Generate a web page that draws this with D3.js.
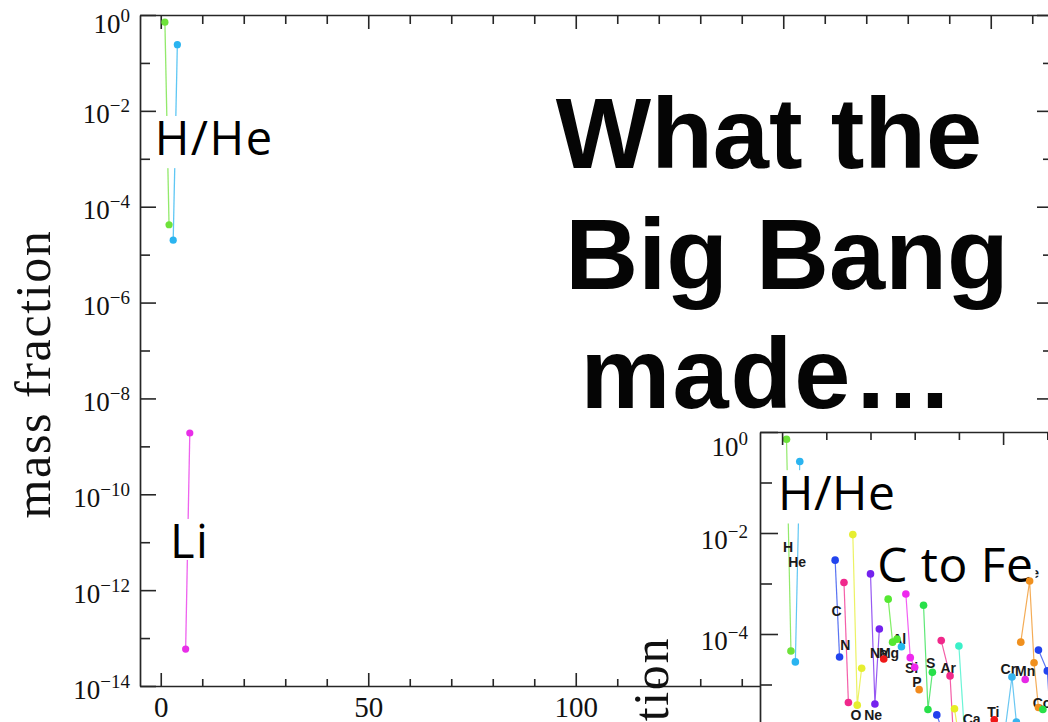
<!DOCTYPE html>
<html>
<head>
<meta charset="utf-8">
<script src="https://cdn.jsdelivr.net/npm/d3@7"></script>
<style>
  html, body { margin: 0; padding: 0; background: #fff; }
  svg { display: block; }
</style>
</head>
<body>
<svg id="chart" width="1048" height="722"></svg>
<script>
// ---------- Big Bang nucleosynthesis yields (main panel) ----------
const bbnElements  = ["H", "He", "Li"];
const bbnMass      = [[1, 2], [3, 4], [6, 7]];
const bbnFraction  = [[0.71, 4.2e-5], [2.0e-5, 0.24], [5.9e-14, 1.9e-9]];
const bbnColors    = ["#6ee23a", "#2ab4f0", "#e82ee8"];

const bbnNoteText     = ["H/He", "Li"];
const bbnNoteMass     = [-1.45, 2.2];
const bbnNoteFraction = [1.2e-3, 4.7e-12];

// ---------- Solar composition (inset panel) ----------
const solarElements = ["H","He","C","N","O","Ne","Na","Mg","Al","Si","P","S","Cl","Ar","K","Ca","Ti","Cr","Mn","Fe","Co","Ni"];
const solarMass = [
  [1, 2], [3, 4], [12, 13], [14, 15], [16, 17, 18], [20, 21, 22], [23], [24, 25, 26], [27],
  [28, 29, 30], [31], [32, 33, 34], [35, 37], [36, 38, 40], [39, 41], [40, 42],
  [46, 47, 48, 49, 50], [50, 52, 53, 54], [55], [54, 56, 57, 58], [59], [58, 60, 61, 62]
];
const solarFraction = [
  [0.72, 4.6e-5], [2.8e-5, 0.26], [2.9e-3, 3.5e-5], [1.05e-3, 4.4e-6], [9.3e-3, 3.9e-6, 2.1e-5],
  [1.55e-3, 4.1e-6, 1.26e-4], [3.2e-5], [4.9e-4, 6.9e-5, 7.9e-5], [5.6e-5],
  [6.2e-4, 3.4e-5, 2.2e-5], [7.9e-6], [3.7e-4, 3.2e-6, 1.74e-5], [2.5e-6, 8.0e-7],
  [7.4e-5, 1.48e-5, 1.0e-8], [3.3e-6, 2.5e-7], [5.8e-5, 1.0e-7],
  [1.3e-7, 1.2e-7, 2.0e-6, 1.5e-7, 1.5e-7], [6.3e-7, 1.41e-5, 1.8e-6, 4.5e-7], [1.26e-5],
  [6.9e-5, 1.12e-3, 2.7e-5, 3.5e-6], [3.2e-6], [4.8e-5, 1.86e-5, 8.0e-7, 2.6e-6]
];
const solarColors = ["#6ee23a","#2ab4f0","#2244ee","#f0288c","#e6ee30","#7422ee","#ee1818","#55e832","#22b8ee",
  "#ee28ee","#f28a1c","#28e04a","#2240ee","#f0288a","#e6ee22","#3af0c8","#ee1818","#38b4ee","#e628e6",
  "#f0901e","#28e048","#2244ee"];
// element tags, anchored in (mass number, mass fraction) coordinates
const solarLabelMass     = [1.36, 3.39, 12.3, 14.3, 16.7, 20.6, 21.9, 24.2, 26.5, 29.3, 30.5, 33.6, 0, 37.6, 0, 42.9, 47.8, 51.2, 55.0, 56.3, 58.8, 0];
const solarLabelFraction = [4.2e-3, 2.1e-3, 2.3e-4, 4.8e-5, 2.0e-6, 2.0e-6, 3.3e-5, 3.3e-5, 6.3e-5, 1.7e-5, 8.9e-6, 2.1e-5, 0, 1.7e-5, 0, 1.66e-6, 2.3e-6, 1.6e-5, 1.5e-5, 1.29e-3, 3.5e-6, 0];

const solarNoteText     = ["H/He", "C to Fe"];
const solarNoteMass     = [-0.9, 21.5];
const solarNoteFraction = [2.85e-2, 1.07e-3];

// ---------- axis ticks ----------
const majorDecades = [0, -2, -4, -6, -8, -10, -12, -14];
const minorDecades = [-1, -3, -5, -7, -9, -11, -13];
const majorMassTicks = [0, 50, 100, 150, 200];
const minorMassTicks = [10, 20, 30, 40, 60, 70, 80, 90, 110, 120, 130, 140, 160, 170, 180, 190, 210];
const insetLabelDecades = [0, -2, -4, -6];

const titleLines = ["What the", "Big Bang", "made\u2026"];

// ---------- drawing ----------
const svg = d3.select("#chart");
const W = 1048, H = 722;
const ink = "#262626";
const serif = "'Liberation Serif', 'DejaVu Serif', serif";
const sans = "'Open Sans', 'Noto Sans', sans-serif";

svg.append("rect").attr("width", W).attr("height", H).attr("fill", "#fff");

function styleAxis(g, keepDomain) {
  if (keepDomain) g.select(".domain").attr("stroke", ink).attr("stroke-width", 1.7);
  else g.select(".domain").remove();
  g.selectAll(".tick line").attr("stroke", ink).attr("stroke-width", 1.6);
}

function powerLabels(g, fontSize, supSize, dyFirst, dyRest) {
  g.selectAll(".tick text").each(function (d) {
    const t = d3.select(this);
    const e = Math.round(Math.log10(d));
    t.text(null)
      .attr("font-family", serif)
      .attr("font-size", fontSize)
      .attr("fill", "#111")
      .attr("dy", null)
      .attr("y", e === 0 ? dyFirst : dyRest);
    t.append("tspan").text("10");
    t.append("tspan").attr("font-size", supSize).attr("dy", -11)
      .text(e === 0 ? "0" : "\u2212" + Math.abs(e));
  });
}

// ===== main panel =====
const x = d3.scaleLinear().domain([-5, 215]).range([140, 1053]);
const y = d3.scaleLog().domain([1e-14, 1]).range([686, 15]);
const [x0, x1] = x.range();
const [yb, yt] = y.range();
const dec = v => v.map(e => Math.pow(10, e));

// left
svg.append("g").attr("transform", `translate(${x0},0)`)
  .call(d3.axisLeft(y).tickValues(dec(majorDecades)).tickSizeInner(-16).tickSizeOuter(0).tickPadding(10))
  .call(g => styleAxis(g, true))
  .call(g => powerLabels(g, 27, 19, 17, 12));
svg.append("g").attr("transform", `translate(${x0},0)`)
  .call(d3.axisLeft(y).tickValues(dec(minorDecades)).tickSizeInner(-10).tickSizeOuter(0).tickFormat(""))
  .call(g => styleAxis(g, false));
// right
svg.append("g").attr("transform", `translate(${x1},0)`)
  .call(d3.axisRight(y).tickValues(dec(majorDecades)).tickSizeInner(-16).tickSizeOuter(0).tickFormat(""))
  .call(g => styleAxis(g, true));
svg.append("g").attr("transform", `translate(${x1},0)`)
  .call(d3.axisRight(y).tickValues(dec(minorDecades)).tickSizeInner(-10).tickSizeOuter(0).tickFormat(""))
  .call(g => styleAxis(g, false));
// top
svg.append("g").attr("transform", `translate(0,${yt})`)
  .call(d3.axisBottom(x).tickValues(majorMassTicks).tickSizeInner(14).tickSizeOuter(0).tickFormat(""))
  .call(g => styleAxis(g, true));
svg.append("g").attr("transform", `translate(0,${yt})`)
  .call(d3.axisBottom(x).tickValues(minorMassTicks).tickSizeInner(9).tickSizeOuter(0).tickFormat(""))
  .call(g => styleAxis(g, false));
// bottom
svg.append("g").attr("transform", `translate(0,${yb})`)
  .call(d3.axisBottom(x).tickValues(majorMassTicks).tickSizeInner(-13).tickSizeOuter(0).tickPadding(10))
  .call(g => styleAxis(g, true))
  .call(g => g.selectAll(".tick text").attr("font-family", serif).attr("font-size", 29).attr("fill", "#111"));
svg.append("g").attr("transform", `translate(0,${yb})`)
  .call(d3.axisBottom(x).tickValues(minorMassTicks).tickSizeInner(-7).tickSizeOuter(0).tickFormat(""))
  .call(g => styleAxis(g, false));

// y title
svg.append("text")
  .attr("transform", `translate(50,374) rotate(-90)`)
  .attr("text-anchor", "middle")
  .attr("font-family", serif).attr("font-size", 50).attr("letter-spacing", 1.6)
  .attr("fill", "#111")
  .text("mass fraction");

function drawSeries(layer, xs, ys, masses, fracs, colors, lineW, r) {
  const line = d3.line().x(d => xs(d[0])).y(d => ys(d[1]));
  const series = masses.map((m, i) => ({ pts: m.map((a, j) => [a, fracs[i][j]]), color: colors[i] }));
  layer.append("g").selectAll("path").data(series).join("path")
    .attr("d", s => line(s.pts))
    .attr("fill", "none").attr("stroke", s => s.color)
    .attr("stroke-width", lineW).attr("stroke-opacity", 0.75);
  return () => layer.append("g").selectAll("g").data(series).join("g")
    .attr("fill", s => s.color)
    .selectAll("circle").data(s => s.pts).join("circle")
    .attr("cx", d => xs(d[0])).attr("cy", d => ys(d[1])).attr("r", r);
}

function drawNotes(layer, xs, ys, texts, masses, fracs, fontSize, spacing) {
  texts.forEach((txt, i) => {
    const g = layer.append("g");
    const bx = xs(masses[i]), by = ys(fracs[i]);
    const t = g.append("text").attr("x", bx).attr("y", by)
      .attr("font-family", sans).attr("font-size", fontSize)
      .attr("letter-spacing", spacing).attr("fill", "#000").text(txt);
    const bb = t.node().getBBox();
    const desc = /[\/gjpqy]/.test(txt) ? 0.28 * fontSize : 2;
    g.insert("rect", "text")
      .attr("x", bb.x - 2).attr("width", bb.width + 4)
      .attr("y", by - 0.83 * fontSize).attr("height", 0.83 * fontSize + desc)
      .attr("fill", "#fff");
  });
}

const mainLayer = svg.append("g");
const mainPoints = drawSeries(mainLayer, x, y, bbnMass, bbnFraction, bbnColors, 1.3, 3.6);
drawNotes(mainLayer, x, y, bbnNoteText, bbnNoteMass, bbnNoteFraction, 47, 1.5);
mainPoints();

// title
const titleX = [769, 787, 768];
const titleY = [168, 289, 408];
svg.append("g").selectAll("text").data(titleLines).join("text")
  .attr("x", (d, i) => titleX[i]).attr("y", (d, i) => titleY[i])
  .attr("text-anchor", "middle")
  .attr("font-family", "'Liberation Sans', Arial, sans-serif")
  .attr("font-weight", 700).attr("font-size", 101).attr("fill", "#050505")
  .attr("letter-spacing", (d, i) => i === 2 ? 2 : 0)
  .text(d => d);

// ===== inset panel =====
const ix = d3.scaleLinear().domain([-5, 215]).range([760, 760 + 220 * 4.42]);
const iy = d3.scaleLog().domain([1e-14, 1]).range([432 + 14 * 50.5, 432]);
const [ix0] = ix.range();
const iyt = iy.range()[1];

svg.append("rect").attr("x", ix0).attr("y", iyt).attr("width", W - ix0).attr("height", H - iyt).attr("fill", "#fff");

const insetLayer = svg.append("g");
const insetPoints = drawSeries(insetLayer, ix, iy, solarMass, solarFraction, solarColors, 1.2, 3.8);

// element tags
insetLayer.append("g").selectAll("text")
  .data(solarElements.map((el, i) => ({ el, a: solarLabelMass[i], f: solarLabelFraction[i] })).filter(d => d.f > 0))
  .join("text")
  .attr("x", d => ix(d.a)).attr("y", d => iy(d.f))
  .attr("text-anchor", "middle")
  .attr("font-family", "'Liberation Sans', Arial, sans-serif")
  .attr("font-weight", 700).attr("font-size", 14).attr("fill", "#1a1a1a")
  .text(d => d.el);

drawNotes(insetLayer, ix, iy, solarNoteText, solarNoteMass, solarNoteFraction, 48, 0.5);
insetPoints();

// inset axes
svg.append("g").attr("transform", `translate(${ix0},0)`)
  .call(d3.axisLeft(iy).tickValues(dec(majorDecades)).tickSizeInner(-18).tickSizeOuter(0).tickFormat(""))
  .call(g => styleAxis(g, true));
svg.append("g").attr("transform", `translate(${ix0},0)`)
  .call(d3.axisLeft(iy).tickValues(dec(minorDecades)).tickSizeInner(-12).tickSizeOuter(0).tickFormat(""))
  .call(g => styleAxis(g, false));
svg.append("g").attr("transform", `translate(${ix0},0)`)
  .call(d3.axisLeft(iy).tickValues(dec(insetLabelDecades)).tickSize(0).tickPadding(12))
  .call(g => g.select(".domain").remove())
  .call(g => powerLabels(g, 27, 19, 23, 15));
svg.append("g").attr("transform", `translate(0,${iyt})`)
  .call(d3.axisBottom(ix).tickValues(majorMassTicks).tickSizeInner(13).tickSizeOuter(0).tickFormat(""))
  .call(g => styleAxis(g, true));
svg.append("g").attr("transform", `translate(0,${iyt})`)
  .call(d3.axisBottom(ix).tickValues(minorMassTicks).tickSizeInner(8).tickSizeOuter(0).tickFormat(""))
  .call(g => styleAxis(g, false));

svg.append("text")
  .attr("transform", `translate(668,637) rotate(-90)`)
  .attr("text-anchor", "end")
  .attr("font-family", serif).attr("font-size", 50).attr("letter-spacing", 1.6)
  .attr("fill", "#111")
  .text("mass fraction");
</script>
</body>
</html>
